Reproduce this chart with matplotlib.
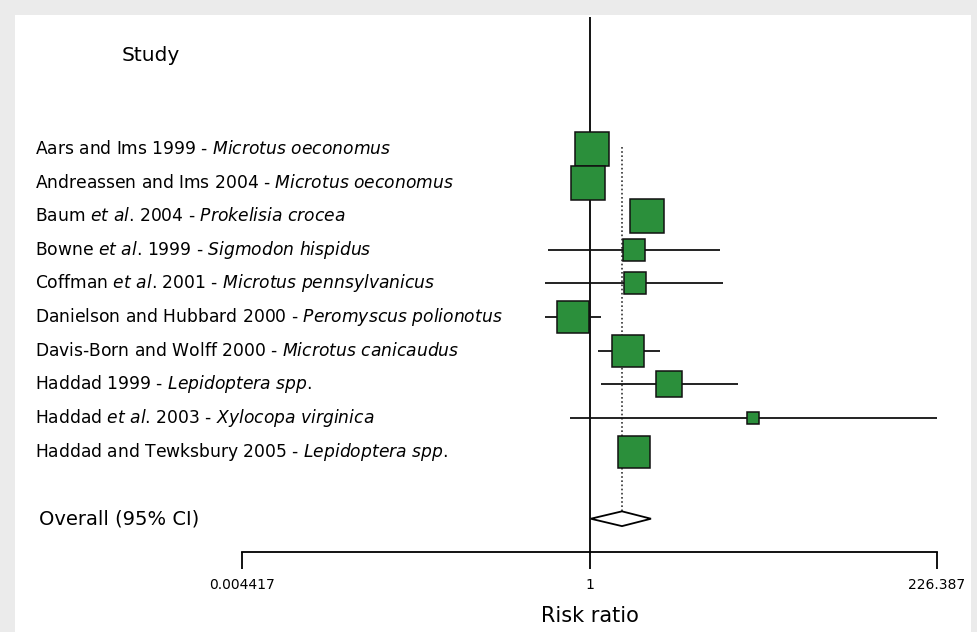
import numpy as np
import matplotlib
matplotlib.use("Agg")
import matplotlib.pyplot as plt
from matplotlib.patches import Rectangle, Polygon
from matplotlib.transforms import blended_transform_factory

plt.rcParams['font.family'] = ['DejaVu Sans']
plt.rcParams['mathtext.fontset'] = 'dejavusans'

# ---- data ----
study_labels = [
    r"Aars and Ims 1999 - $\mathit{Microtus\ oeconomus}$",
    r"Andreassen and Ims 2004 - $\mathit{Microtus\ oeconomus}$",
    r"Baum $\mathit{et\ al}$. 2004 - $\mathit{Prokelisia\ crocea}$",
    r"Bowne $\mathit{et\ al}$. 1999 - $\mathit{Sigmodon\ hispidus}$",
    r"Coffman $\mathit{et\ al}$. 2001 - $\mathit{Microtus\ pennsylvanicus}$",
    r"Danielson and Hubbard 2000 - $\mathit{Peromyscus\ polionotus}$",
    r"Davis-Born and Wolff 2000 - $\mathit{Microtus\ canicaudus}$",
    r"Haddad 1999 - $\mathit{Lepidoptera\ spp}$.",
    r"Haddad $\mathit{et\ al}$. 2003 - $\mathit{Xylocopa\ virginica}$",
    r"Haddad and Tewksbury 2005 - $\mathit{Lepidoptera\ spp}$.",
]
rr = [1.04, 0.97, 2.47, 1.99, 2.02, 0.767, 1.82, 3.46, 12.9, 1.99]
ci_low = [0.95, 0.88, 2.20, 0.52, 0.50, 0.50, 1.14, 1.20, 0.74, 1.80]
ci_high = [1.14, 1.07, 2.75, 7.66, 8.03, 1.20, 3.00, 10.1, 226.387, 2.20]
weights = [14.0, 14.0, 14.0, 6.0, 6.0, 12.4, 11.7, 7.7, 1.9, 12.4]
pooled_rr = 1.66
pooled_low = 1.02
pooled_high = 2.61
x_ticks = [0.004417, 1, 226.387]
x_tick_labels = ["0.004417", "1", "226.387"]

green = '#2b8f3b'

fig = plt.figure(figsize=(9.78, 6.32), dpi=100, facecolor='#ebebeb')
bg = Rectangle((15/978, 0), (971-15)/978, 1-15/632,
               transform=fig.transFigure, facecolor='white',
               edgecolor='none', zorder=-10)
fig.patches.append(bg)

ax = fig.add_axes([242/978, 1-552/632, (937-242)/978, (552-17)/632])
ax.set_zorder(5)
ax.set_facecolor('none')
ax.set_xscale('log')
ax.set_xlim(0.004417, 226.387)
ax.set_ylim(11.99, -3.93)

n = len(rr)
ys = np.arange(n)

ax.axvline(1, color='black', lw=1.3, zorder=2)
ax.plot([pooled_rr, pooled_rr], [-0.05, 11], color='#333333', lw=1.2,
        ls=(0, (1, 1.5)), zorder=2)

for i in range(n):
    ax.plot([ci_low[i], ci_high[i]], [ys[i], ys[i]], color='#111111',
            lw=1.3, zorder=3, solid_capstyle='butt')
    ms = np.sqrt(weights[i]) * 9.35 * 0.72
    ax.plot(rr[i], ys[i], marker='s', ms=ms, mfc=green, mec='#111111',
            mew=1.1, zorder=4, ls='none')

# diamond
dh = 0.22
diamond = Polygon([[pooled_low, 11], [pooled_rr, 11 - dh], [pooled_high, 11],
                   [pooled_rr, 11 + dh]], closed=True, facecolor='white',
                  edgecolor='black', lw=1.3, zorder=5)
ax.add_patch(diamond)

bt = blended_transform_factory(fig.transFigure, ax.transData)

for i, lab in enumerate(study_labels):
    ax.text(35/978, ys[i], lab, transform=bt, fontsize=12.3, va='center',
            ha='left', clip_on=False)

ax.text(122/978, -2.77, "Study", transform=bt,
        fontsize=14.5, va='center', ha='left', clip_on=False)
ax.text(39/978, 11.0, "Overall (95% CI)", transform=bt, fontsize=14,
        va='center', ha='left', clip_on=False)

# axis
for s in ['top', 'right', 'left']:
    ax.spines[s].set_visible(False)
ax.spines['bottom'].set_bounds(0.004417, 226.387)
ax.spines['bottom'].set_linewidth(1.3)
ax.set_yticks([])
ax.set_xticks(x_ticks)
ax.set_xticklabels(x_tick_labels, fontsize=10)
ax.xaxis.set_minor_locator(matplotlib.ticker.NullLocator())
ax.tick_params(axis='x', direction='out', length=12, width=1.3, pad=7)
ax.set_xlabel("Risk ratio", fontsize=15, labelpad=10)

fig.savefig("out.png", dpi=100, facecolor=fig.get_facecolor())
